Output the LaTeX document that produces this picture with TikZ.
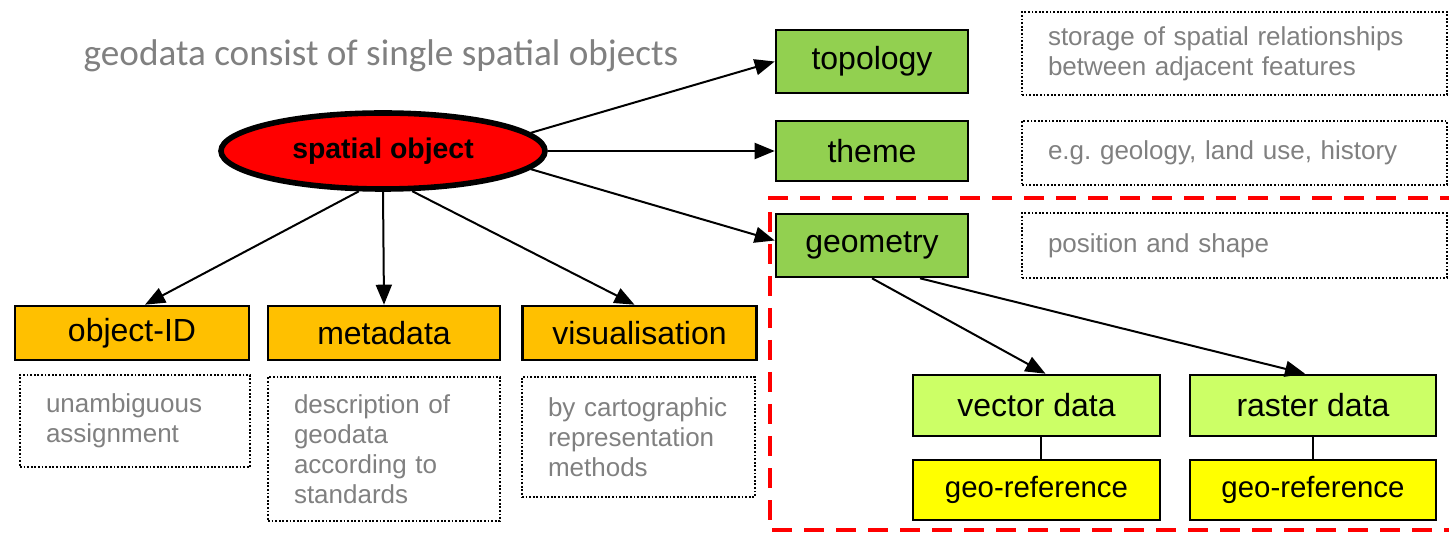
\documentclass[tikz,border=0pt]{standalone}
\usepackage{fontspec}
\setmainfont{Liberation Sans}
\newfontfamily\titlefont{Carlito}
\usetikzlibrary{arrows.meta,shapes.geometric}
\frenchspacing

\definecolor{topgreen}{HTML}{92D050}
\definecolor{subgreen}{HTML}{CCFF66}
\definecolor{orangebox}{HTML}{FFC000}
\definecolor{yellowbox}{HTML}{FFFF00}
\definecolor{notegray}{HTML}{808080}

\tikzset{
  arr/.style={line width=1pt, -{Triangle[length=10pt,width=8pt]}},
  plainbox/.style={draw=black, line width=1.3pt, inner sep=0pt,
    font=\fontsize{16}{18}\selectfont, text=black},
  greenbox/.style={plainbox, fill=topgreen, minimum width=96pt, minimum height=31.5pt},
  orbox/.style={plainbox, fill=orangebox, minimum width=117pt, minimum height=27pt},
  vecbox/.style={plainbox, fill=subgreen, minimum width=123.5pt, minimum height=30.5pt},
  refbox/.style={plainbox, fill=yellowbox, minimum width=123.5pt, minimum height=30pt,
    font=\fontsize{14.7}{17}\selectfont},
  note/.style={draw=black, line width=0.9pt, dash pattern=on 0.9pt off 0.9pt,
    text=notegray, align=left, inner xsep=13pt, inner ysep=0pt,
    font=\fontsize{13}{15}\selectfont},
  frame/.style={draw=red, line width=2pt, dash pattern=on 10pt off 6pt},
}

\begin{document}
\begin{tikzpicture}[x=0.5pt, y=-0.5pt]
  \clip (0,0) rectangle (1449,533);
  \useasboundingbox (0,0) rectangle (1449,533);

  % heading
  \node[text=notegray, font=\titlefont\fontsize{18.6}{20}\selectfont] (title) at (381,56)
    {geodata consist of single spatial objects};

  % central object
  \node[ellipse, draw=black, line width=2.8pt, fill=red, minimum width=162pt,
        minimum height=38pt, inner sep=0pt,
        font=\bfseries\fontsize{14.2}{16}\selectfont] (so) at (383,151) {spatial object};

  % right-hand branch
  \node[greenbox] (topo) at (872,61.5) {topology};
  \node[greenbox, minimum height=30pt] (theme) at (872,151) {theme};
  \node[greenbox] (geo) at (872,245.5) {geometry};

  \node[note, text width=186.5pt, minimum height=41.5pt] (topoN) at (1234.5,53.5)
    {storage of spatial relationships\\between adjacent features};
  \node[note, text width=186.5pt, minimum height=32pt] (themeN) at (1234.5,153)
    {e.g. geology, land use, history};
  \node[note, text width=186.5pt, minimum height=32.5pt] (geoN) at (1234.5,245.5)
    {position and shape};

  % lower branch
  \node[orbox] (oid) at (132,333) {object-ID};
  \node[orbox, minimum width=116pt] (md) at (384,333) {metadata};
  \node[orbox] (vis) at (639.5,333) {visualisation};

  \node[note, text width=89pt, minimum height=46pt] (oidN) at (135,421)
    {unambiguous\\assignment};
  \node[note, text width=90pt, minimum height=72pt] (mdN) at (384,449)
    {description of\\geodata\\according to\\standards};
  \node[note, text width=90.5pt, minimum height=60pt] (visN) at (638.5,437)
    {by cartographic\\representation\\methods};

  % geometry types
  \node[vecbox] (vec) at (1036.5,405.5) {vector data};
  \node[vecbox, minimum width=123pt] (ras) at (1313,405.5) {raster data};
  \node[refbox] (gr1) at (1036.5,490) {geo-reference};
  \node[refbox, minimum width=123pt] (gr2) at (1313,490) {geo-reference};

  % geometry frame, open to the right
  \draw[frame] (1460,198) -- (770,198) -- (770,530) -- (1460,530);

  % connectors
  \draw[arr] (so.7) -- (topo.west);
  \draw[arr] (so.east) -- (theme.west);
  \draw[arr] (so.-7) -- ([yshift=2.5pt]geo.west);
  \draw[arr] (so.239) -- ([xshift=6.5pt]oid.north);
  \draw[arr] (so.south) -- (md.north);
  \draw[arr] (so.-54) -- ([xshift=-2.5pt]vis.north);
  \draw[arr] (geo.south) -- ([xshift=4.5pt]vec.north);
  \draw[arr] ([xshift=24pt]geo.south) -- ([xshift=-4pt]ras.north);
  \draw[line width=1pt] ([xshift=2pt]vec.south) -- ([xshift=2pt]gr1.north);
  \draw[line width=1pt] (ras.south) -- (gr2.north);
\end{tikzpicture}
\end{document}
